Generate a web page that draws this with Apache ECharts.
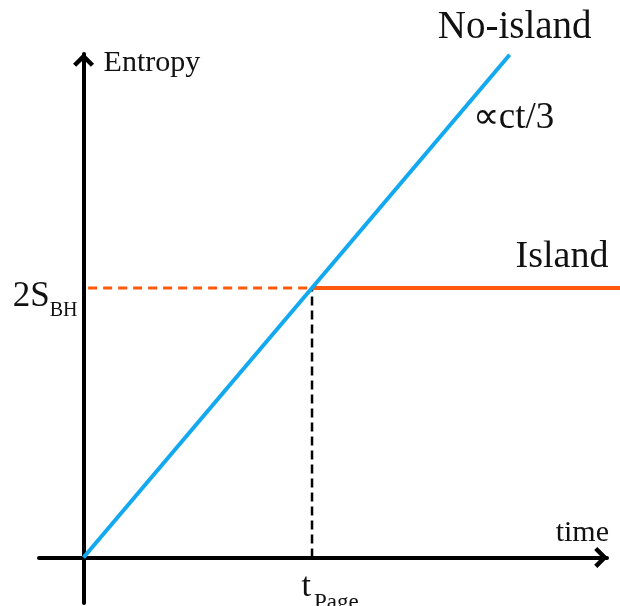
<!DOCTYPE html>
<html>
<head>
<meta charset="utf-8">
<script src="https://cdn.jsdelivr.net/npm/echarts@6/dist/echarts.min.js"></script>
<style>
  html, body { margin: 0; padding: 0; background: #fff; }
  #app { width: 620px; height: 606px; }
</style>
</head>
<body>
<div id="app"></div>
<script>
// time in units of t_Page, entropy in units of 2S_BH
const noIsland = [[0, 0], [1.865, 1.865]];
const island = [[1, 1], [2.35, 1]];
const islandDashed = [[0.02, 1], [1, 1]];
const pageLine = [[1, 0], [1, 1]];
const xTicks = [1];
const yTicks = [1];

const FONT = "Liberation Serif";
const BLUE = "#12a9f0";
const ORANGE = "#ff5a0c";
const ARROW = "path://M10,0 L20,10 L17,13 L10,6 L3,13 L0,10 Z";

const myChart = echarts.init(document.getElementById("app"));

const axisLine = {
  onZero: true,
  symbol: ["none", ARROW],
  symbolSize: [21, 15],
  symbolOffset: [0, -6],
  lineStyle: { color: "#000", width: 4 },
};

// grid 0 holds the data (runs to the right edge), grid 1 draws the arrowed axes
const option = {
  backgroundColor: "#fff",
  animation: false,
  grid: [
    { left: 39, right: 0, top: 54, bottom: 3, containLabel: false, outerBoundsMode: "none" },
    { left: 39, right: 13, top: 54, bottom: 3, containLabel: false, outerBoundsMode: "none" },
  ],
  xAxis: [
    {
      gridIndex: 0,
      type: "value",
      min: -0.195,
      max: 2.348,
      splitLine: { show: false },
      axisTick: { show: false },
      axisLine: { show: false },
      axisLabel: {
        customValues: xTicks,
        margin: -33,
        align: "center",
        padding: [0, 0, 0, 36],
        formatter: () => "{a|t}{b|Page}",
        rich: {
          a: { fontFamily: FONT, fontSize: 34, lineHeight: 44, color: "#111", verticalAlign: "top" },
          b: { fontFamily: FONT, fontSize: 23, lineHeight: 23, color: "#111", verticalAlign: "bottom", padding: [0, 0, 0, 3] },
        },
      },
    },
    {
      gridIndex: 1,
      type: "value",
      min: -0.195,
      max: 2.291,
      splitLine: { show: false },
      axisTick: { show: false },
      axisLabel: { show: false },
      axisLine: axisLine,
      name: "time",
      nameLocation: "end",
      nameGap: 2,
      nameTextStyle: {
        fontFamily: FONT,
        fontSize: 30,
        color: "#111",
        align: "right",
        verticalAlign: "bottom",
        padding: [0, 0, 9, 0],
      },
    },
  ],
  yAxis: [
    {
      gridIndex: 0,
      type: "value",
      min: -0.169,
      max: 1.868,
      splitLine: { show: false },
      axisTick: { show: false },
      axisLine: { show: false },
      axisLabel: {
        customValues: yTicks,
        margin: -38.5,
        padding: [24, 0, 0, 0],
        formatter: () => "{a|2S}{b|BH}",
        rich: {
          a: { fontFamily: FONT, fontSize: 35, lineHeight: 41, color: "#111", verticalAlign: "top" },
          b: { fontFamily: FONT, fontSize: 20, lineHeight: 20, color: "#111", verticalAlign: "bottom" },
        },
      },
    },
    {
      gridIndex: 1,
      type: "value",
      min: -0.169,
      max: 1.868,
      splitLine: { show: false },
      axisTick: { show: false },
      axisLabel: { show: false },
      axisLine: axisLine,
      name: "Entropy",
      nameLocation: "end",
      nameGap: -9,
      nameTextStyle: {
        fontFamily: FONT,
        fontSize: 30,
        color: "#111",
        align: "left",
        verticalAlign: "middle",
        padding: [0, 0, 0, 20],
      },
    },
  ],
  series: [
    {
      name: "Island dashed",
      type: "line",
      data: islandDashed,
      symbol: "none",
      lineStyle: { color: ORANGE, width: 3, type: [9, 6] },
    },
    {
      name: "t_Page",
      type: "line",
      data: pageLine,
      symbol: "none",
      lineStyle: { color: "#000", width: 2.5, type: [9, 5] },
    },
    {
      name: "Island",
      type: "line",
      data: island,
      symbol: "none",
      lineStyle: { color: ORANGE, width: 4 },
      markPoint: {
        symbol: "circle",
        symbolSize: 0,
        label: { show: true, fontFamily: FONT, fontSize: 38, color: "#111", formatter: "Island" },
        data: [{ coord: [2.094, 1.115] }],
      },
    },
    {
      name: "No-island",
      type: "line",
      data: noIsland,
      symbol: "none",
      clip: false,
      lineStyle: { color: BLUE, width: 4 },
      endLabel: {
        show: true,
        formatter: "No-island",
        fontFamily: FONT,
        fontSize: 39,
        color: "#111",
        align: "center",
        verticalAlign: "middle",
        distance: 0,
        offset: [5, -27],
      },
      markPoint: {
        symbol: "circle",
        symbolSize: 0,
        label: { show: true, fontFamily: FONT, fontSize: 37, color: "#111", formatter: "\u221dct/3" },
        data: [{ coord: [1.882, 1.631] }],
      },
    },
  ],
};

myChart.setOption(option);
</script>
</body>
</html>
